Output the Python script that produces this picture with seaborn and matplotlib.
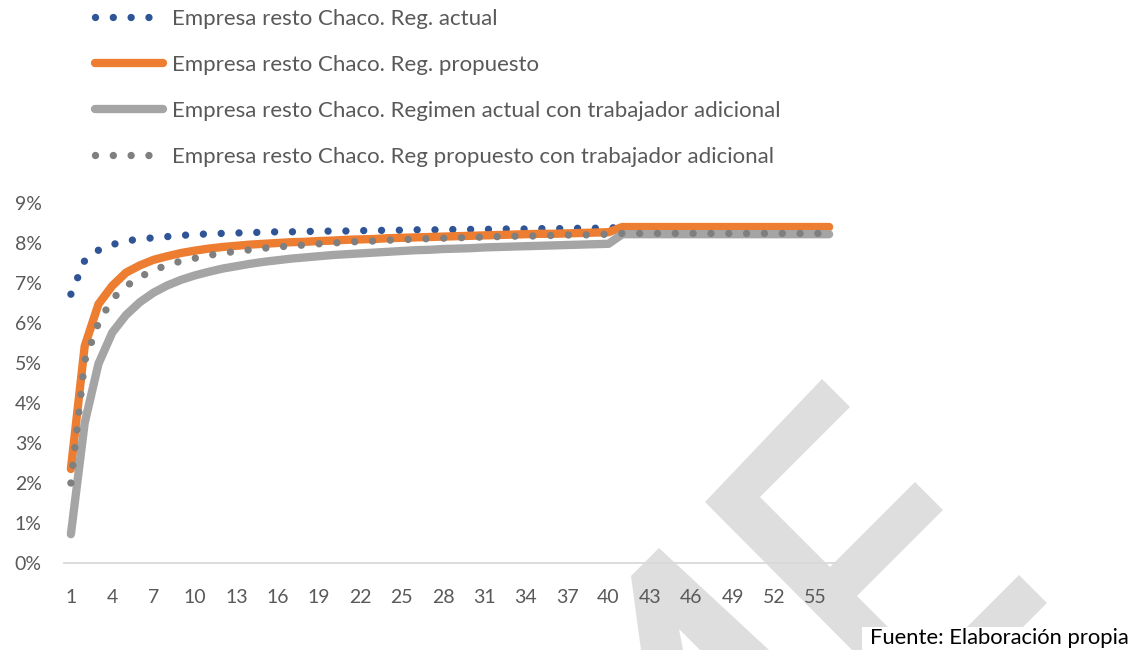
import numpy as np
import pandas as pd
import matplotlib.pyplot as plt
import seaborn as sns
from matplotlib.lines import Line2D
from matplotlib.patches import Polygon, Rectangle

# data (rate in %, by number of workers)
periods = list(range(1, 57))

reg_actual = [6.72, 7.56, 7.82, 7.96, 8.05, 8.10, 8.13, 8.16, 8.19, 8.21,
              8.23, 8.24, 8.25, 8.26, 8.27, 8.28, 8.28, 8.29, 8.29, 8.30,
              8.30, 8.31, 8.31, 8.32, 8.32, 8.33, 8.33, 8.33, 8.34, 8.34,
              8.34, 8.35, 8.35, 8.35, 8.36, 8.36, 8.36, 8.37, 8.37, 8.37,
              8.40, 8.40, 8.40, 8.40, 8.40, 8.40, 8.40, 8.40, 8.40, 8.40,
              8.40, 8.40, 8.40, 8.40, 8.40, 8.40]

reg_propuesto = [2.35, 5.42, 6.47, 6.93, 7.26, 7.44, 7.58, 7.67, 7.75, 7.81,
                 7.86, 7.90, 7.93, 7.96, 7.98, 8.00, 8.02, 8.03, 8.05, 8.06,
                 8.08, 8.09, 8.10, 8.12, 8.13, 8.14, 8.15, 8.16, 8.17, 8.18,
                 8.19, 8.20, 8.21, 8.22, 8.23, 8.23, 8.24, 8.25, 8.26, 8.27,
                 8.40, 8.40, 8.40, 8.40, 8.40, 8.40, 8.40, 8.40, 8.40, 8.40,
                 8.40, 8.40, 8.40, 8.40, 8.40, 8.40]

actual_adicional = [0.72, 3.50, 4.98, 5.76, 6.20, 6.52, 6.76, 6.94, 7.08, 7.19,
                    7.28, 7.36, 7.42, 7.48, 7.53, 7.57, 7.61, 7.64, 7.67, 7.70,
                    7.72, 7.74, 7.76, 7.78, 7.80, 7.82, 7.83, 7.85, 7.86, 7.87,
                    7.89, 7.90, 7.91, 7.92, 7.93, 7.94, 7.95, 7.96, 7.97, 7.98,
                    8.22, 8.22, 8.22, 8.22, 8.22, 8.22, 8.22, 8.22, 8.22, 8.22,
                    8.22, 8.22, 8.22, 8.22, 8.22, 8.22]

propuesto_adicional = [2.00, 5.05, 6.00, 6.60, 6.92, 7.15, 7.32, 7.45, 7.55, 7.62,
                       7.69, 7.75, 7.79, 7.83, 7.87, 7.90, 7.93, 7.95, 7.98, 8.00,
                       8.02, 8.04, 8.05, 8.07, 8.08, 8.10, 8.11, 8.12, 8.13, 8.14,
                       8.15, 8.16, 8.17, 8.17, 8.18, 8.19, 8.20, 8.20, 8.21, 8.22,
                       8.24, 8.24, 8.24, 8.24, 8.24, 8.24, 8.24, 8.24, 8.24, 8.24,
                       8.24, 8.24, 8.24, 8.24, 8.24, 8.24]

labels = ["Empresa resto Chaco. Reg. actual",
          "Empresa resto Chaco. Reg. propuesto",
          "Empresa resto Chaco. Regimen actual con trabajador adicional",
          "Empresa resto Chaco. Reg propuesto con trabajador adicional"]
colors = ["#2F5597", "#ED7D31", "#A5A5A5", "#7F7F7F"]
y_ticks = list(range(0, 10))
x_ticks = periods[::3]

W, H = 1137, 650
dots = (0, (0.001, 2.42))

sns.set_theme(style="white")
plt.rcParams["font.family"] = ["Lato", "DejaVu Sans"]

fig = plt.figure(figsize=(W / 100, H / 100), dpi=100)
ax = fig.add_axes([64 / W, 87 / H, 772 / W, 360 / H])
ax.patch.set_alpha(0)


def px(pts):
    return [(x / W, 1 - y / H) for x, y in pts]


# light grey watermark behind the chart
wm_color = "#DEDEDE"
shapes = [
    [(822, 379), (850, 407), (760, 497), (830, 567), (915, 482), (943, 510),
     (857, 596), (911, 650), (852, 650), (705, 502)],
    [(1019, 575), (1047, 603), (1000, 650), (944, 650)],
    [(659, 548), (769, 650), (700, 650), (679, 629), (683, 650), (641, 650), (631, 576)],
]
for s in shapes:
    fig.patches.append(Polygon(px(s), closed=True, transform=fig.transFigure,
                               facecolor=wm_color, edgecolor="none", zorder=-1))

styles = [
    dict(lw=5.3, linestyle=dots, dash_capstyle="round"),
    dict(lw=6, solid_capstyle="round", solid_joinstyle="round"),
    dict(lw=6, solid_capstyle="round", solid_joinstyle="round"),
    dict(lw=5.3, linestyle=dots, dash_capstyle="round"),
]
series = [reg_actual, reg_propuesto, actual_adicional, propuesto_adicional]

for vals, col, st in zip(series, colors, styles):
    sns.lineplot(x=periods, y=vals, color=col, ax=ax, **st)

ax.set_xlim(0.5, 56.5)
ax.set_ylim(0, 9)
ax.set_xticks(x_ticks)
ax.set_yticks(y_ticks)
ax.set_yticklabels([f"{v}%" for v in y_ticks])
ax.set_xlabel("")
ax.set_ylabel("")
for side in ["top", "right", "left"]:
    ax.spines[side].set_visible(False)
ax.spines["bottom"].set_color("#D9D9D9")
ax.spines["bottom"].set_linewidth(1.3)
ax.tick_params(axis="both", length=0, labelsize=14, colors="#595959")
ax.tick_params(axis="y", pad=16)
ax.tick_params(axis="x", pad=19)
ax.grid(False)

handles = [Line2D([0], [0], color=c, **st) for c, st in zip(colors, styles)]
fig.legend(handles, labels, loc="upper left", bbox_to_anchor=(95 / W, 1 - 9 / H),
           frameon=False, fontsize=16, handlelength=3.06, handletextpad=0.4,
           labelspacing=1.17, borderpad=0, borderaxespad=0, labelcolor="#595959")

# source note on a white box
fig.patches.append(Rectangle((862 / W, 0), 1 - 862 / W, 23 / H, transform=fig.transFigure,
                             facecolor="white", edgecolor="none", zorder=0))
fig.text(870 / W, 1 - 638 / H, "Fuente: Elaboración propia", fontsize=15.8,
         color="black", va="center", ha="left")

fig.savefig("out.png", dpi=100)
